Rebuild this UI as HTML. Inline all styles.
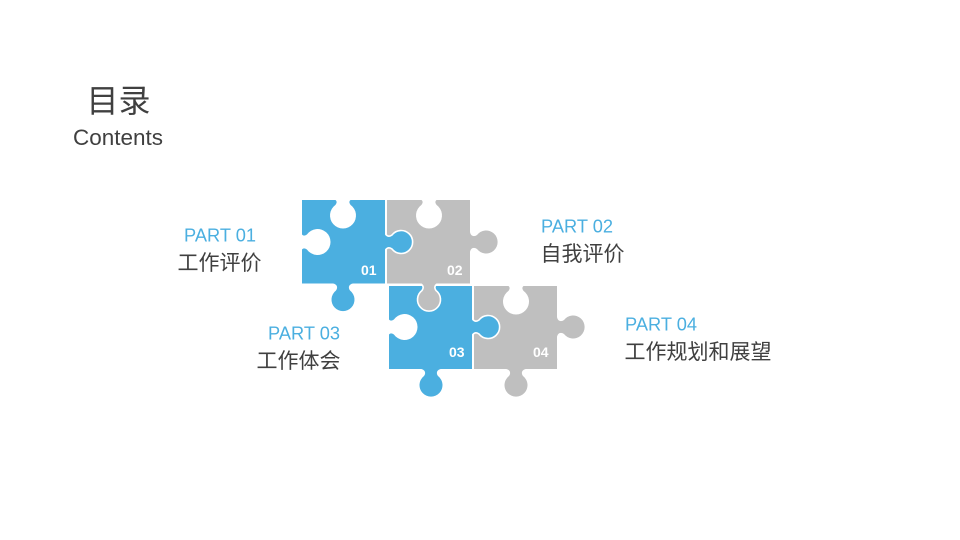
<!DOCTYPE html>
<html><head><meta charset="utf-8"><style>
html,body{margin:0;padding:0;background:#fff}
svg{display:block}
.c{font-family:"Liberation Sans","Noto Sans CJK SC",sans-serif;fill:#404040}
.p{font-family:"Liberation Sans",sans-serif;font-size:18px;fill:#4bafe0}
.n{font-family:"Liberation Sans",sans-serif;font-size:14px;font-weight:bold;fill:#fff}
</style></head><body>
<svg width="960" height="540" viewBox="0 0 960 540" xmlns="http://www.w3.org/2000/svg">
<defs>
<path id="tab" d="M-10,3 L-10,0 C-6.5,-.5 -4.5,-3.5 -7,-7 A11.5,11.5 0 1 1 7,-7 C4.5,-3.500 6.5,-.5 10,0 L10,3 Z"/>
<path id="hole" d="M-7.5,1 L-7.500,0 C-6,-1.5 -6,-2.5 -7.5,-4.9 A13,13 0 1 1 7.5,-4.9 C6,-2.5 6,-1.5 7.5,0 L7.5,1 Z"/>
</defs>
<rect width="960" height="540" fill="#fff"/>

<!-- piece 4 -->
<use href="#tab" transform="translate(557,327) rotate(90)" fill="#bfbfbf"/>
<use href="#tab" transform="translate(516,369) rotate(180)" fill="#bfbfbf"/>
<rect x="474" y="286" width="83" height="83" fill="#bfbfbf"/>
<use href="#hole" transform="translate(516,286) rotate(180)" fill="#fff"/>

<!-- piece 3 -->
<use href="#tab" transform="translate(431,369) rotate(180)" fill="#4bafe0"/>
<use href="#tab" transform="translate(472,327) rotate(90)" fill="#4bafe0" stroke="#fff" stroke-width="1.6"/>
<rect x="389" y="286" width="83" height="83" fill="#4bafe0"/>
<use href="#hole" transform="translate(389,327) rotate(90)" fill="#fff"/>

<!-- piece 2 -->
<use href="#tab" transform="translate(470,242) rotate(90)" fill="#bfbfbf"/>
<use href="#tab" transform="translate(429,283.5) rotate(180)" fill="#bfbfbf" stroke="#fff" stroke-width="1.6"/>
<rect x="387" y="200" width="83" height="83.5" fill="#bfbfbf"/>
<use href="#hole" transform="translate(429,200) rotate(180)" fill="#fff"/>

<!-- piece 1 -->
<use href="#tab" transform="translate(343,283.5) rotate(180)" fill="#4bafe0"/>
<use href="#tab" transform="translate(385,242) rotate(90)" fill="#4bafe0" stroke="#fff" stroke-width="1.6"/>
<rect x="302" y="200" width="83" height="83.5" fill="#4bafe0"/>
<use href="#hole" transform="translate(343,200) rotate(180)" fill="#fff"/>
<use href="#hole" transform="translate(302,242) rotate(90)" fill="#fff"/>

<text class="n" x="361" y="275">01</text>
<text class="n" x="447" y="275">02</text>
<text class="n" x="449" y="357">03</text>
<text class="n" x="533" y="357">04</text>

<text class="c" x="86.500" y="112" font-size="32">目录</text>
<text class="c" x="73" y="145" font-size="22" textLength="90" lengthAdjust="spacingAndGlyphs">Contents</text>

<text class="p" x="184" y="241.500" textLength="72" lengthAdjust="spacingAndGlyphs">PART 01</text>
<text class="c" x="177.500" y="270" font-size="21">工作评价</text>
<text class="p" x="541" y="232.500" textLength="72" lengthAdjust="spacingAndGlyphs">PART 02</text>
<text class="c" x="540.500" y="261" font-size="21">自我评价</text>
<text class="p" x="268" y="339.500" textLength="72" lengthAdjust="spacingAndGlyphs">PART 03</text>
<text class="c" x="256.500" y="368" font-size="21">工作体会</text>
<text class="p" x="625" y="330.500" textLength="72" lengthAdjust="spacingAndGlyphs">PART 04</text>
<text class="c" x="624.500" y="359" font-size="21">工作规划和展望</text>
</svg>
</body></html>
